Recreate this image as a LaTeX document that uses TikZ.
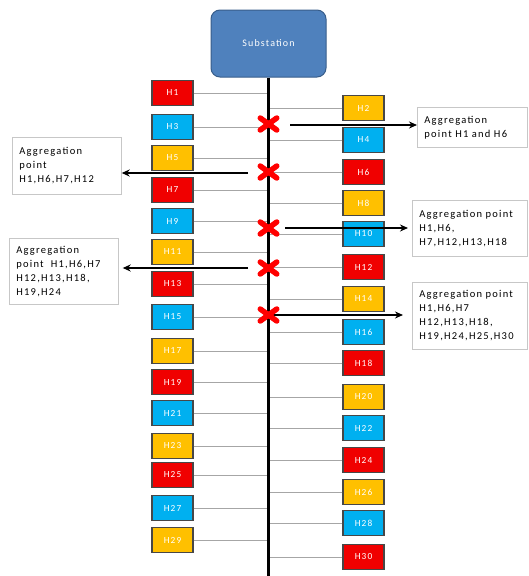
\documentclass[tikz,border=0pt]{standalone}
\usepackage{fontspec}
\setmainfont{Carlito}
\newfontfamily\aggfont[LetterSpace=12]{Carlito}
\newfontfamily\hfont[LetterSpace=12]{Carlito}
\usetikzlibrary{shapes.misc,arrows.meta,calc}
\definecolor{hred}{HTML}{F00000}
\definecolor{hblue}{HTML}{00B0F0}
\definecolor{hyellow}{HTML}{FFC000}
\definecolor{subfill}{HTML}{4F81BD}
\definecolor{subdraw}{HTML}{385D8A}
\definecolor{hborder}{HTML}{474747}
\definecolor{feeder}{HTML}{A6A6A6}
\begin{document}
\begin{tikzpicture}[x=1pt,y=-1pt,
  house/.style={draw=hborder, line width=1.4pt, minimum width=41pt, minimum height=25pt,
    inner sep=0pt, text=white, font=\hfont\fontsize{9.3}{11}\selectfont},
  hr/.style={house, fill=hred},
  hb/.style={house, fill=hblue},
  hy/.style={house, fill=hyellow},
  feed/.style={draw=feeder, line width=0.9pt},
  bus/.style={line width=3pt},
  fault/.style={cross out, draw=red, line width=5.5pt, line cap=round,
    minimum width=11pt, minimum height=6.5pt, inner sep=0pt},
  aggbox/.style={draw=black!22, line width=0.7pt, fill=white, align=left, inner xsep=7pt,
    inner ysep=0pt, font=\aggfont\fontsize{10.5}{14}\selectfont, anchor=north west},
  push/.style={line width=1.6pt, -{Stealth[length=8pt,width=7pt]}},
  substation/.style={draw=subdraw, line width=1pt, fill=subfill, rounded corners=9pt,
    minimum width=115pt, minimum height=67pt, text=white, font=\hfont\fontsize{10}{12}\selectfont}
]
\useasboundingbox (0,0) rectangle (528,576);

% substation and bus
\node[substation] (sub) at (268.5,43.5) {Substation};
\coordinate (busend) at (268.5,576);

% houses on the left
\foreach \n/\yy/\s in {1/93/hr,3/127/hb,5/158/hy,7/190/hr,9/221/hb,11/252/hy,13/284/hr,
  15/317/hb,17/351/hy,19/382/hr,21/413/hb,23/446/hy,25/475/hr,27/508/hb,29/540/hy}{
  \node[\s] (h\n) at (172.5,\yy) {H\n};
  \draw[feed] (h\n.east) -- (h\n.east -| sub.south);
}
% houses on the right
\foreach \n/\yy/\s in {2/108/hy,4/140/hb,6/172/hr,8/203/hy,10/234/hb,12/267/hr,14/299/hy,
  16/332/hb,18/363/hr,20/397/hy,22/428/hb,24/460/hr,26/492/hy,28/523/hb,30/557/hr}{
  \node[\s] (h\n) at (363.5,\yy) {H\n};
  \draw[feed] (h\n.west) -- (h\n.west -| sub.south);
}

\draw[bus] (sub.south) -- (busend);

% aggregation boxes
\node[aggbox, text width=96pt, minimum height=40pt] (aggA) at (417,107)
  {Aggregation\\point H1 and H6};
\node[aggbox, text width=95pt, minimum height=57pt] (aggB) at (12,137)
  {Aggregation\\point\\H1,H6,H7,H12};
\node[aggbox, text width=101pt, minimum height=56pt] (aggC) at (412,200)
  {Aggregation point\\H1,H6,\\H7,H12,H13,H18};
\node[aggbox, text width=95pt, minimum height=66pt] (aggD) at (9,238)
  {Aggregation\\point\ \ H1,H6,H7\\H12,H13,H18,\\H19,H24};
\node[aggbox, text width=101pt, minimum height=67pt] (aggE) at (412,282)
  {Aggregation point\\H1,H6,H7\\H12,H13,H18,\\H19,H24,H25,H30};

% arrows from the aggregation points
\coordinate (a1) at (290,125);
\coordinate (a2) at (248,173);
\coordinate (a3) at (285,228);
\coordinate (a4) at (248,268);
\coordinate (a5) at (272,315);
\draw[push] (a1) -- (a1 -| aggA.west);
\draw[push] (a2) -- (a2 -| aggB.east);
\draw[push] (a3) -- ($(a3 -| aggC.west)+(-4,0)$);
\draw[push] (a4) -- ($(a4 -| aggD.east)+(4,0)$);
\draw[push] (a5) -- ($(a5 -| aggE.west)+(-9,0)$);

% fault / aggregation crosses on the bus
\node[fault] (f1) at (268.5,124) {};
\node[fault] (f2) at (268.5,172) {};
\node[fault] (f3) at (268.5,228) {};
\node[fault] (f4) at (268.5,268) {};
\node[fault] (f5) at (268.5,315) {};
\end{tikzpicture}
\end{document}
